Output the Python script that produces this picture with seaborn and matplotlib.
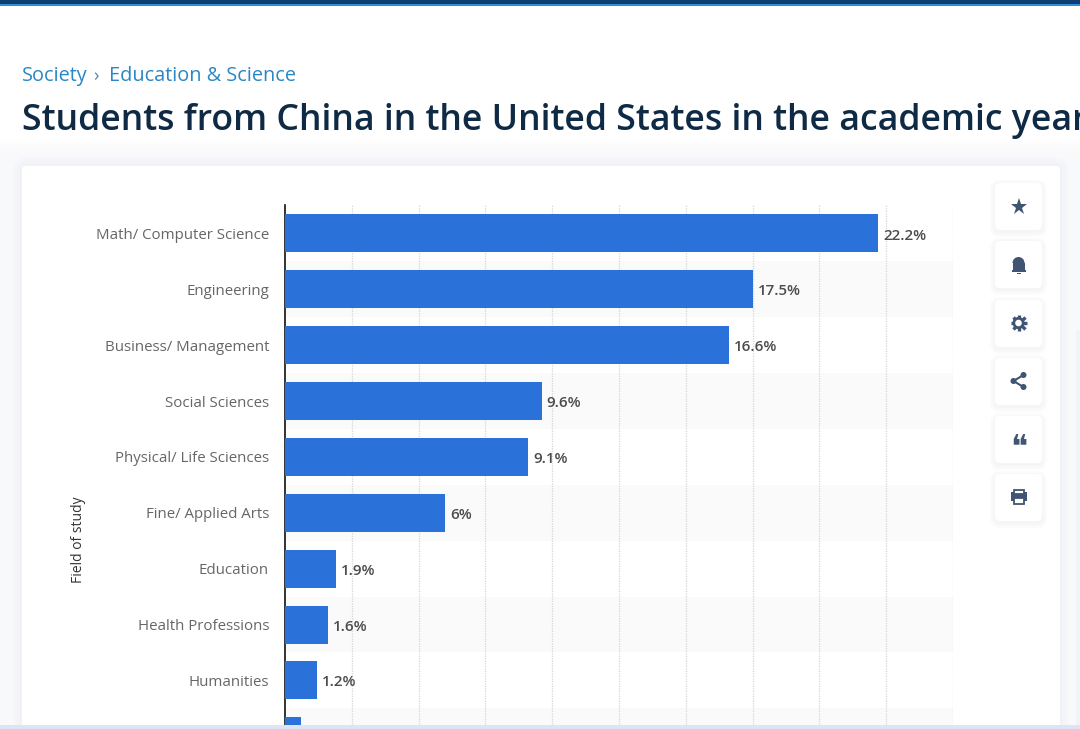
import seaborn as sns
import pandas as pd
import matplotlib.pyplot as plt
from matplotlib.patches import Rectangle, FancyBboxPatch, Circle, Wedge

# values, last bar is cut off by the screenshot
categories = ["Math/ Computer Science", "Engineering", "Business/ Management",
              "Social Sciences", "Physical/ Life Sciences", "Fine/ Applied Arts",
              "Education", "Health Professions", "Humanities", ""]
shares = [22.2, 17.5, 16.6, 9.6, 9.1, 6, 1.9, 1.6, 1.2, 0.6]
x_gridlines = [2.5, 5, 7.5, 10, 12.5, 15, 17.5, 20, 22.5, 25]

W, H = 1080, 729
BLUE = "#2a72d9"
ICON = "#3f5573"
PAGE = "#f8f9fb"

sns.set_theme(style="white")
plt.rcParams["font.family"] = ["Open Sans", "DejaVu Sans"]

fig = plt.figure(figsize=(W / 100, H / 100), dpi=100, facecolor="white")

# page furniture, in pixel coordinates
bg = fig.add_axes([0, 0, 1, 1], zorder=0)
bg.set_xlim(0, W)
bg.set_ylim(H, 0)
bg.axis("off")

bg.add_patch(Rectangle((0, 0), W, 4, color="#0b3f73", lw=0))
bg.add_patch(Rectangle((0, 4), W, 2, color="#2f8fd6", lw=0))
# page tint fades in above the card
for top in range(140, 172, 4):
    bg.add_patch(Rectangle((0, top), W, H - top, color=PAGE, lw=0, alpha=0.25))
bg.add_patch(Rectangle((1076, 330), 4, H - 330, color="#f1f3f7", lw=0))


def rounded(x, y, w, h, r, color, z=1, alpha=1):
    bg.add_patch(FancyBboxPatch((x + r, y + r), w - 2 * r, h - 2 * r,
                                boxstyle=f"round,pad={r}", fc=color, ec="none",
                                alpha=alpha, zorder=z))


for grow in [8, 5, 2]:
    rounded(22 - grow, 166 - grow, 1038 + 2 * grow, 600, 4 + grow, "#e8ebf1", 1, 0.15)
rounded(22, 166, 1038, 600, 4, "white", 2)

bg.text(22, 76, "Society", color="#2a86c4", fontsize=14.3, va="center")
bg.text(93, 76, "›", color="#5f7f96", fontsize=13, va="center")
bg.text(109, 76, "Education & Science", color="#2a86c4", fontsize=14.3, va="center")
bg.text(22, 121, "Students from China in the United States in the academic year",
        color="#0f2a44", fontsize=25.7, fontweight=600, va="center")

# side buttons
button_tops = [183, 241, 300, 358, 416, 474]
for top in button_tops:
    for grow in [5, 3, 1]:
        rounded(995 - grow, top - grow + 2, 47 + 2 * grow, 47 + 2 * grow, 5 + grow, "#e6e9ef", 3, 0.14)
    rounded(995, top, 47, 47, 5, "white", 4)

cx = 1018.5
bg.plot(cx, 207, marker="*", ms=12.5, color=ICON, mew=0, zorder=5)
# bell
bg.add_patch(Wedge((cx, 263), 6, 180, 360, fc=ICON, ec="none", zorder=5))
bg.add_patch(Rectangle((cx - 6, 263), 12, 7, fc=ICON, ec="none", zorder=5))
bg.add_patch(Rectangle((cx - 7, 270), 14, 1.5, fc=ICON, ec="none", zorder=5))
bg.add_patch(Rectangle((cx - 2, 272.5), 4, 1.5, fc=ICON, ec="none", zorder=5))
# gear
bg.plot(cx, 323, marker="+", ms=11.5, mew=2.4, color=ICON, zorder=5)
bg.plot(cx, 323, marker="x", ms=9, mew=2.4, color=ICON, zorder=5)
bg.add_patch(Circle((cx, 323), 6, fc=ICON, ec="none", zorder=5))
bg.add_patch(Circle((cx, 323), 3.3, fc="white", ec="none", zorder=6))
# share
share_points = [(cx + 5, 375), (cx - 5, 381), (cx + 5, 387)]
bg.plot([p[0] for p in share_points], [p[1] for p in share_points], color=ICON, lw=1.5, zorder=5)
for p in share_points:
    bg.add_patch(Circle(p, 3, fc=ICON, ec="none", zorder=5))
# quote marks
bg.text(cx, 449, "\u275d", color=ICON, fontsize=23, ha="center", va="center", zorder=5,
        family="DejaVu Sans")
# printer
bg.add_patch(Rectangle((cx - 8, 492), 16, 9, fc=ICON, ec="none", zorder=5))
bg.add_patch(Rectangle((cx - 5, 489.5), 10, 4, fc="white", ec=ICON, lw=1.3, zorder=5))
bg.add_patch(Rectangle((cx - 5, 498), 10, 6, fc="white", ec=ICON, lw=1.3, zorder=6))

# chart, the axes run off the bottom of the screenshot
ax_left, ax_right, ax_top, ax_bottom = 285, 953, 205, H
ax = fig.add_axes([ax_left / W, 1 - ax_bottom / H, (ax_right - ax_left) / W, (ax_bottom - ax_top) / H],
                  zorder=5)
ax.patch.set_alpha(0)

df = pd.DataFrame({"field": categories, "share": shares})
sns.barplot(data=df, y="field", x="share", color=BLUE, saturation=1, width=0.68, ax=ax, zorder=3,
            linewidth=0)

ax.set_xlim(0, 25)
ax.set_ylim(8.87, -0.51)

for i in range(1, len(categories), 2):
    ax.axhspan(i - 0.5, i + 0.5, color="#fafafa", lw=0, zorder=0)
for g in x_gridlines:
    ax.axvline(g, color="#d4d6d9", lw=0.9, ls=(0, (1, 1)), zorder=1)

labels = [f"{v:g}%" for v in shares[:-1]] + [""]
value_texts = ax.bar_label(ax.containers[0], labels=labels, padding=3.8, color="#4c4c4c",
                           fontsize=10.9, fontweight=600)
for t in value_texts:
    t.xyann = (t.xyann[0], -1.5)

sns.despine(ax=ax, top=True, right=True, bottom=True)
ax.spines["left"].set_color("#111111")
ax.spines["left"].set_linewidth(1.2)
ax.set_xticks([])
ax.set_xlabel("")
ax.tick_params(axis="y", length=0, pad=11.5, labelsize=10.8, labelcolor="#666666")
ax.set_ylabel("Field of study", fontsize=10, color="#333333")
ax.yaxis.set_label_coords((86 - ax_left) / (ax_right - ax_left), (H - 540) / (H - ax_top))

# screenshot edge on top of everything
fg = fig.add_axes([0, 0, 1, 1], zorder=10)
fg.set_xlim(0, W)
fg.set_ylim(H, 0)
fg.axis("off")
fg.add_patch(Rectangle((0, 725), W, 4, color="#dfe3f6", lw=0))

fig.savefig("out.png", dpi=100)
